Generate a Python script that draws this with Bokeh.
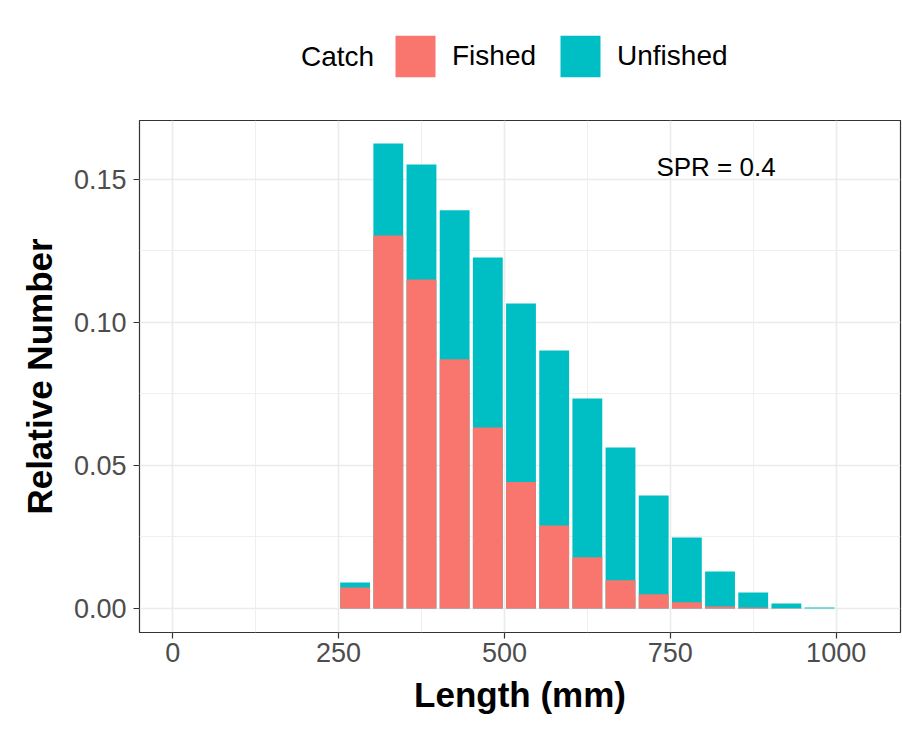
from bokeh.plotting import figure
from bokeh.layouts import column
from bokeh.models import (ColumnDataSource, FixedTicker, Legend, LegendItem, Label,
                          Range1d, CustomJSTickFormatter)
from bokeh.embed import file_html
from bokeh.resources import INLINE

# ---- data ----
bin_mid = [275, 325, 375, 425, 475, 525, 575, 625, 675, 725, 775, 825, 875, 925, 975]
fished = [0.0073, 0.1304, 0.1150, 0.0871, 0.0633, 0.0442, 0.0290, 0.0179, 0.0099,
          0.0050, 0.0022, 0.0007, 0.0003, 0.0001, 0.0000]
unfished = [0.0091, 0.1626, 0.1552, 0.1392, 0.1227, 0.1066, 0.0902, 0.0734, 0.0563,
            0.0395, 0.0248, 0.0129, 0.0056, 0.0017, 0.0003]
x_ticks = [0, 250, 500, 750, 1000]
x_minor = [125, 375, 625, 875]
y_ticks = [0.0, 0.05, 0.10, 0.15]
y_minor = [0.025, 0.075, 0.125]
annot_text = "SPR = 0.4"
legend_title = "Catch"
series_names = ["Fished", "Unfished"]

FISHED_C = "#F8766D"
UNFISHED_C = "#00BFC4"
FONT = "Liberation Sans"

# ---------------- legend strip (top) ----------------
top = figure(width=902, height=119, output_backend="svg", toolbar_location=None,
             x_range=Range1d(139, 900), y_range=Range1d(0, 119),
             x_axis_type=None, y_axis_type=None,
             min_border_left=139, min_border_right=2, min_border_top=0, min_border_bottom=0)
top.outline_line_color = None
top.grid.visible = False
top.background_fill_color = "white"
top.border_fill_color = "white"
dummy = ColumnDataSource(dict(x=[-5000], top=[0]))
lf = top.vbar(x="x", top="top", width=1, source=dummy, fill_color=FISHED_C, line_color=None)
lu = top.vbar(x="x", top="top", width=1, source=dummy, fill_color=UNFISHED_C, line_color=None)
top.add_layout(Label(x=337, y=63, text=legend_title, text_align="center", text_baseline="middle",
                     text_font=FONT, text_font_size="28px", text_color="black"))
legend = Legend(items=[LegendItem(label=series_names[0], renderers=[lf]),
                       LegendItem(label=series_names[1], renderers=[lu])],
                orientation="horizontal", location=(251, 37),
                glyph_width=50, glyph_height=52, label_standoff=12, spacing=19,
                padding=0, margin=0, border_line_color=None, background_fill_alpha=0,
                label_text_font=FONT, label_text_font_size="28px", label_text_color="black",
                label_height=52, label_text_baseline="middle")
top.add_layout(legend, "center")

# ---------------- main chart ----------------
src = ColumnDataSource(dict(x=bin_mid, f=fished, u=unfished))

p = figure(width=902, height=613, output_backend="svg", toolbar_location=None,
           x_range=Range1d(-50, 1097), y_range=Range1d(-0.0084, 0.1706),
           min_border_left=139, min_border_right=2, min_border_top=1, min_border_bottom=100)
p.background_fill_color = "white"
p.border_fill_color = "white"
p.outline_line_color = "#333333"
p.outline_line_width = 1.2

ru = p.vbar(x="x", top="u", width=45, bottom=0, source=src, fill_color=UNFISHED_C, line_color=None)
rf = p.vbar(x="x", top="f", width=45, bottom=0, source=src, fill_color=FISHED_C, line_color=None)

p.xaxis.ticker = FixedTicker(ticks=x_ticks, minor_ticks=x_minor)
p.yaxis.ticker = FixedTicker(ticks=y_ticks, minor_ticks=y_minor)
p.yaxis.formatter = CustomJSTickFormatter(code="return tick.toFixed(2);")
for ax in (p.xaxis[0], p.yaxis[0]):
    ax.axis_line_color = None
    ax.major_tick_line_color = "#333333"
    ax.major_tick_line_width = 1.2
    ax.major_tick_out = 6
    ax.major_tick_in = 0
    ax.minor_tick_line_color = None
    ax.major_label_text_font = FONT
    ax.major_label_text_font_size = "27px"
    ax.major_label_text_color = "#4D4D4D"
    ax.axis_label_text_font = FONT
    ax.axis_label_text_font_size = "35px"
    ax.axis_label_text_font_style = "bold"
    ax.axis_label_text_color = "black"
p.xaxis.axis_label = "Length (mm)"
p.yaxis.axis_label = "Relative Number"
p.xaxis.major_label_standoff = 4
p.yaxis.major_label_standoff = 7
p.xaxis.axis_label_standoff = 10
p.yaxis.axis_label_standoff = 12

for g in (p.xgrid[0], p.ygrid[0]):
    g.grid_line_color = "#EBEBEB"
    g.grid_line_width = 1.6
    g.minor_grid_line_color = "#EBEBEB"
    g.minor_grid_line_width = 0.8

p.add_layout(Label(x=819, y=0.1542, text=annot_text, text_align="center", text_baseline="middle",
                   text_font=FONT, text_font_size="26px", text_color="black"))

layout = column(top, p, spacing=0)
open("out.html", "w").write(file_html(layout, INLINE))
